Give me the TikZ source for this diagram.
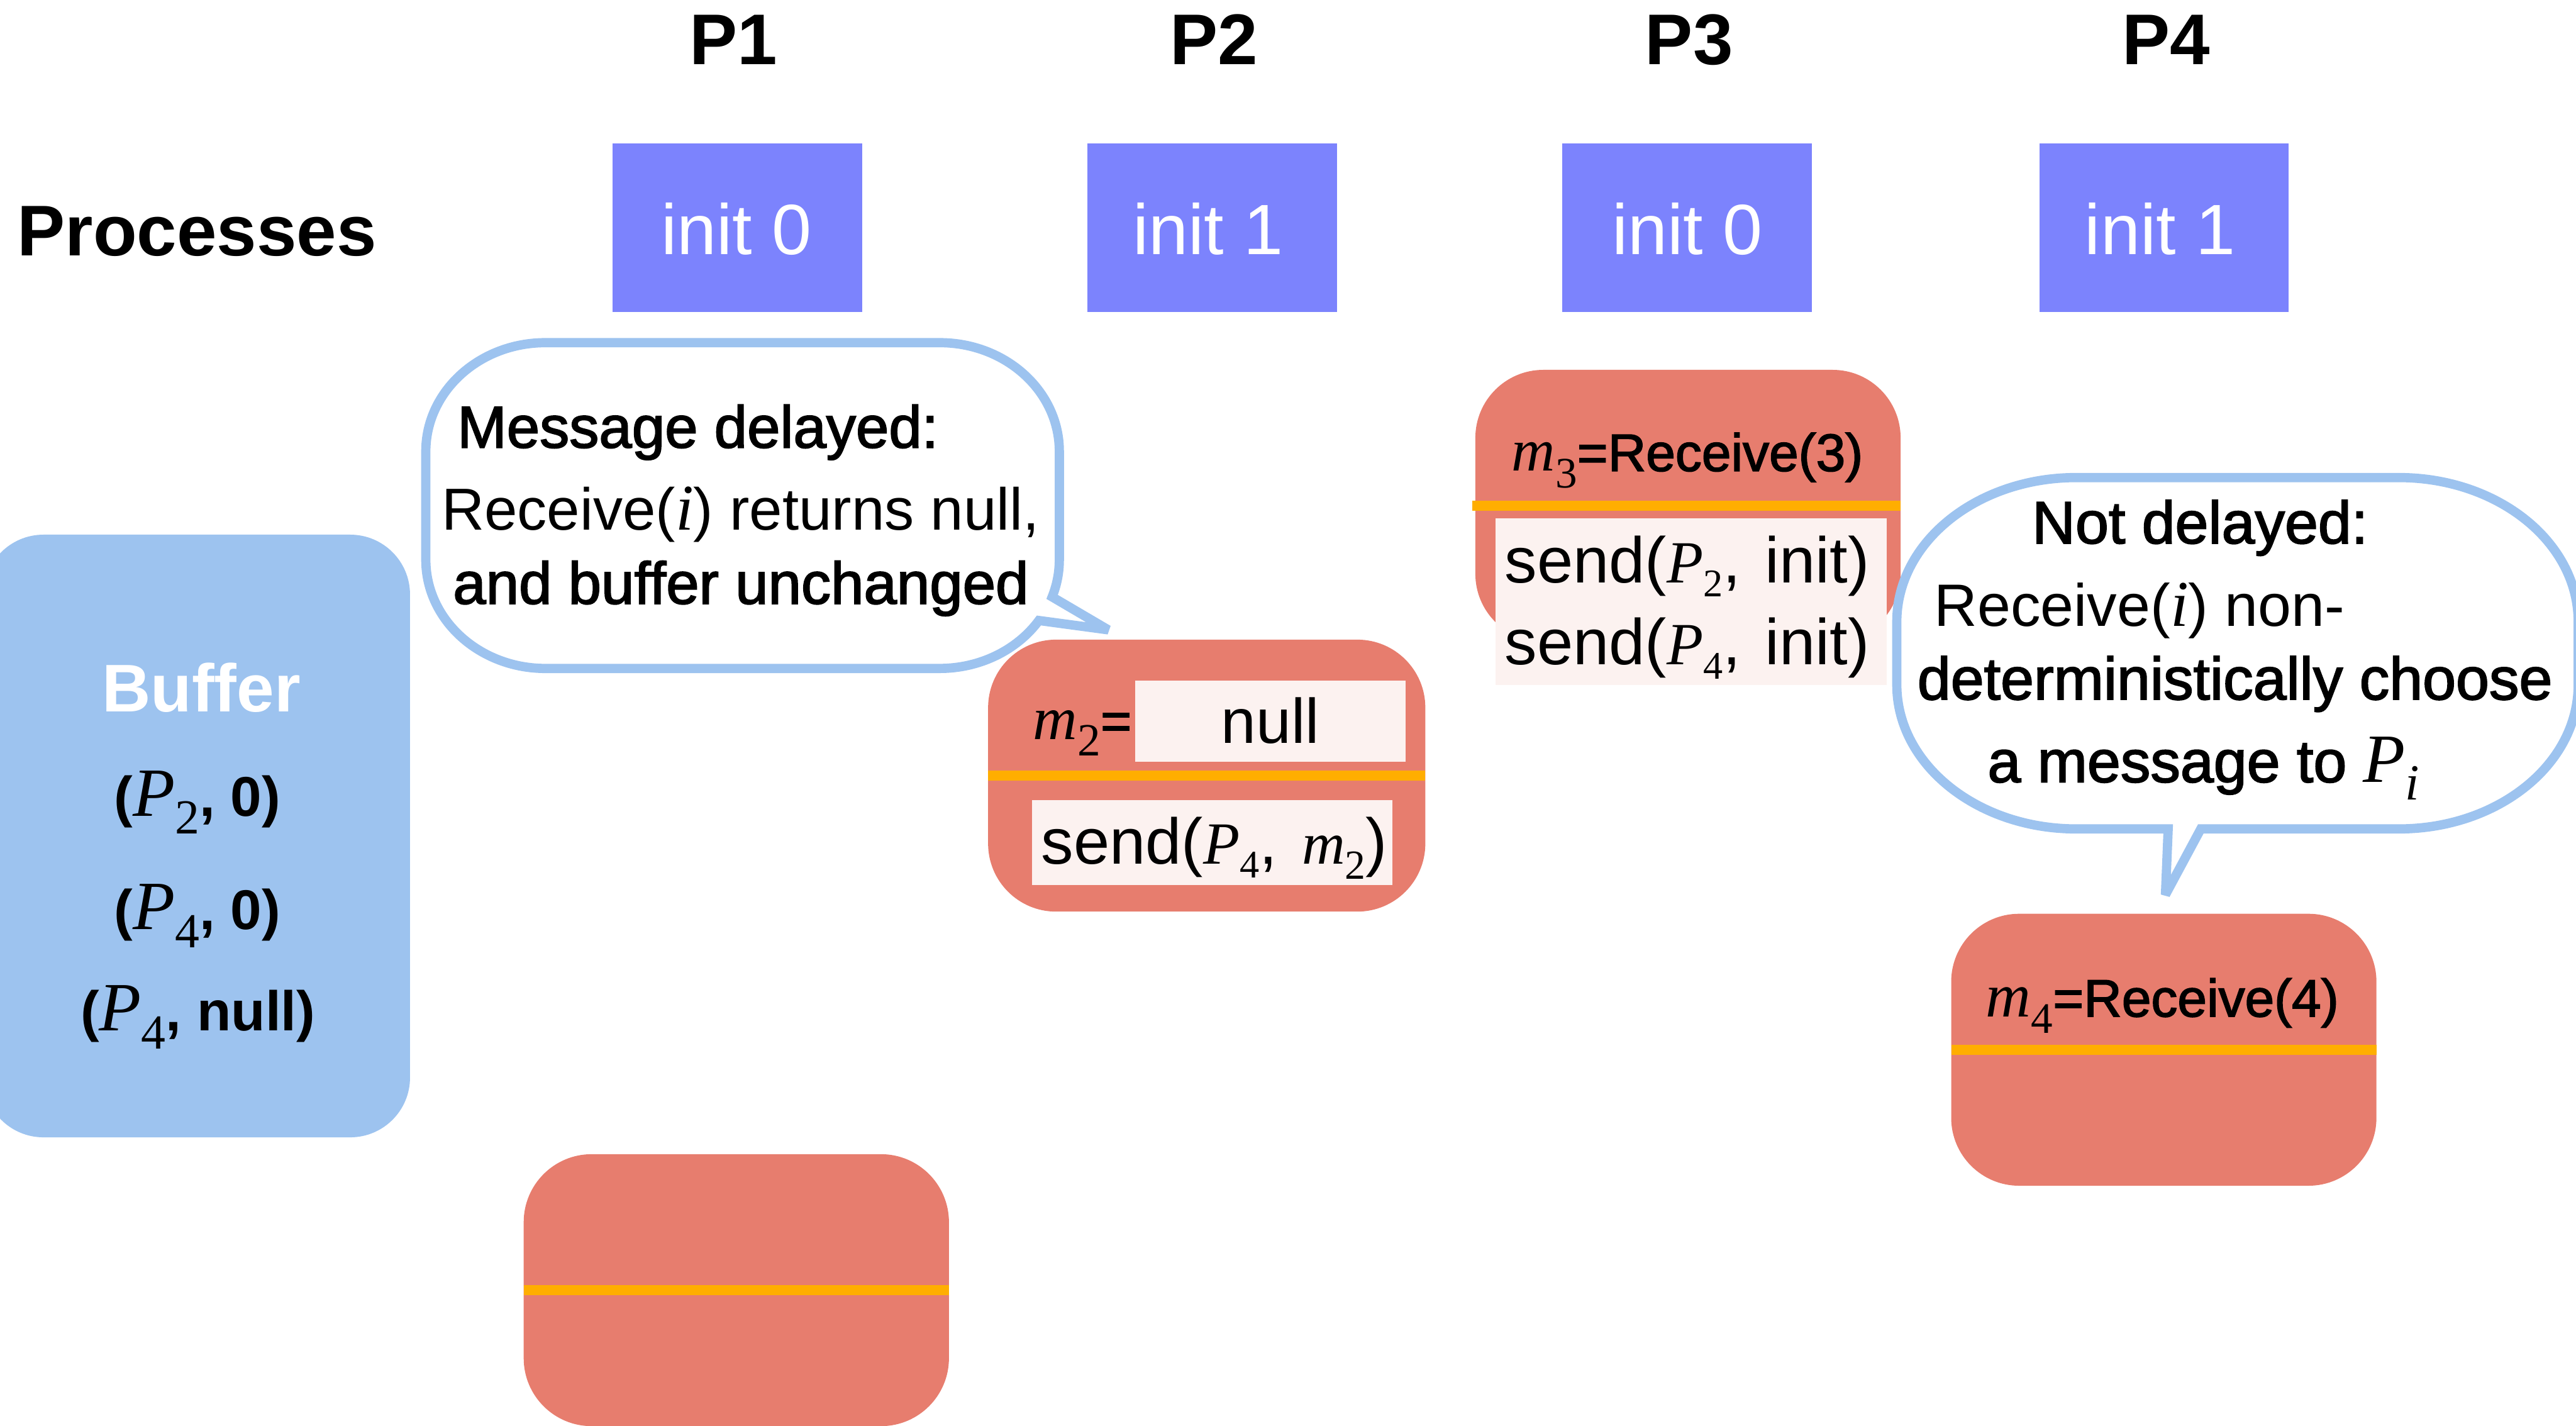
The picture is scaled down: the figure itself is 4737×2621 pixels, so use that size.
\documentclass[tikz,border=0pt]{standalone}
\usepackage{fontspec}
\usepackage{graphicx}
\setmainfont{Liberation Sans}
\newfontfamily\serif{Liberation Serif}
\newfontfamily\med{Liberation Sans}[FakeBold=2]
\definecolor{initblue}{RGB}{124,131,253}
\definecolor{boxred}{RGB}{231,125,110}
\definecolor{lineorange}{RGB}{255,174,0}
\definecolor{lightblue}{RGB}{157,195,239}
\definecolor{paleback}{RGB}{252,242,240}
\newcommand\fs[1]{\fontsize{#1}{#1}\selectfont}
\newcommand\mv[5]{{\fs{#3}\serif\mdseries\itshape #1}\raisebox{-#5pt}{\fs{#4}\serif\mdseries #2}}
\begin{document}
\begin{tikzpicture}[x=1pt,y=-1pt,
  every node/.style={inner sep=0pt,outer sep=0pt},
  initbox/.style={fill=initblue,minimum width=459pt,minimum height=310pt},
  procbox/.style={fill=boxred,rounded corners=125pt,minimum width=782pt,minimum height=500pt},
  sepline/.style={draw=lineorange,line width=18pt},
  inbox/.style={fill=paleback},
  hdr/.style={font={\fs{132}\bfseries},anchor=base},
  inittxt/.style={font={\fs{131}},text=white,anchor=base},
  bubble/.style={draw=lightblue,fill=white,line width=17pt,line join=miter,miter limit=3},
  btxt/.style={font={\fs{109}},anchor=base west},
  ctxt/.style={font={\fs{110}},anchor=base west},
  sendtxt/.style={font={\fs{119}},anchor=base west},
  bufftxt/.style={font={\fs{103}\bfseries},anchor=base}]
\useasboundingbox (0,0) rectangle (4737,2621);
\clip (0,0) rectangle (4737,2621);

% headers
\node[hdr] (h1) at (1349,118) {P1};
\node[hdr] (h2) at (2232,118) {P2};
\node[hdr] (h3) at (3106,118) {P3};
\node[hdr] (h4) at (3983,118) {P4};
\node[font={\fs{132}\bfseries},anchor=base west] (proc) at (32,470) {Processes};

% init boxes
\node[initbox] (i1) at (1355.5,419) {};
\node[initbox] (i2) at (2229.5,419) {};
\node[initbox] (i3) at (3102.5,419) {};
\node[initbox] (i4) at (3979.5,419) {};
\node[inittxt] (it1) at (1354,468) {init 0};
\node[inittxt] (it2) at (2222,468) {init 1};
\node[inittxt] (it3) at (3103,468) {init 0};
\node[inittxt] (it4) at (3972,468) {init 1};

% buffer
\node[fill=lightblue,rounded corners=110pt,minimum width=784pt,minimum height=1108pt] (buf) at (362,1537) {};
\node[font={\fs{124}\bfseries},text=white,anchor=base] (buft) at (370,1308) {Buffer};
\node[bufftxt] (bu1) at (363,1500) {(\mv{P}{2}{127}{90}{33}, 0)};
\node[bufftxt] (bu2) at (363,1709) {(\mv{P}{4}{127}{90}{33}, 0)};
\node[bufftxt] (bu3) at (364,1895) {(\mv{P}{4}{127}{90}{33}, null)};

% P1 box
\node[procbox] (p1) at (1354,2372) {};
\draw[sepline] (p1.west) -- (p1.east);

% P2 box
\node[procbox,minimum width=804pt] (p2) at (2219,1426) {};
\draw[sepline] (p2.west) -- (p2.east);
\node[inbox,minimum width=497pt,minimum height=150pt] (n2) at (2336.5,1326) {};
\node[inbox,minimum width=663pt,minimum height=156pt] (s2) at (2229.5,1549) {};
\node[anchor=base west] (m2t) at (1900,1359) {\mv{m}{2}{113}{85}{30}{\med\fs{97}=}};
\node[anchor=base,font={\fs{116}}] (nullt) at (2336,1366) {null};
\node[sendtxt] (s2t) at (1915,1588) {send(\mv{P}{4}{110}{72}{26}, \hspace{12pt}\mv{m}{2}{110}{76}{28})};

% P3 box
\node[procbox] (p3) at (3104,930) {};
\draw[sepline] ([xshift=-6pt]p3.west) -- (p3.east);
\node[inbox,minimum width=719pt,minimum height=306pt] (s3) at (3109.5,1106) {};
\node[anchor=base west] (m3t) at (2780,866) {\mv{m}{3}{111}{80}{31}{\med\fs{97}=Receive(3)}};
\node[sendtxt] (s3a) at (2767,1071) {send(\mv{P}{2}{110}{72}{26}, \hspace{12pt}init)};
\node[sendtxt] (s3b) at (2767,1222) {send(\mv{P}{4}{110}{72}{26}, \hspace{12pt}init)};

% P4 box
\node[procbox] (p4) at (3979,1930) {};
\draw[sepline] (p4.west) -- (p4.east);
\node[anchor=base west] (m4t) at (3652,1869) {\mv{m}{4}{115}{80}{30}{\med\fs{97}=Receive(4)}};

% bubble 1
\draw[bubble] (1003,630) -- (1728,630)
  arc[start angle=-90,end angle=0,x radius=220,y radius=200]
  -- (1948,1029)
  arc[start angle=0,end angle=20,x radius=220,y radius=200]
  -- (2038,1158) -- (1910.4,1140.8)
  arc[start angle=34,end angle=90,x radius=220,y radius=200]
  -- (1003,1229)
  arc[start angle=90,end angle=180,x radius=220,y radius=200]
  -- (783,830)
  arc[start angle=180,end angle=270,x radius=220,y radius=200]
  -- cycle;
\node[btxt] (b1a) at (841,823) {\med Message delayed:};
\node[btxt] (b1b) at (812,974) {Receive({\fs{120}\serif\itshape i}) returns null,};
\node[btxt] (b1c) at (833,1110) {\med and buffer unchanged};

% bubble 2
\draw[bubble] (3818,878) -- (4411,878)
  arc[start angle=-90,end angle=0,x radius=330,y radius=265]
  -- (4741,1259)
  arc[start angle=0,end angle=90,x radius=330,y radius=265]
  -- (4047,1524) -- (3982,1645) -- (3987,1524)
  -- (3818,1524)
  arc[start angle=90,end angle=180,x radius=330,y radius=265]
  -- (3488,1143)
  arc[start angle=180,end angle=270,x radius=330,y radius=265]
  -- cycle;
\node[ctxt] (b2a) at (3737,999) {\med Not delayed:};
\node[ctxt] (b2b) at (3557,1151) {Receive({\fs{120}\serif\itshape i}) non-};
\node[ctxt] (b2c) at (3526,1286) {\med deterministically choose};
\node[ctxt] (b2d) at (3655,1438) {\med a message to \mv{P}{\itshape i}{127}{93}{33}};
\end{tikzpicture}
\end{document}
